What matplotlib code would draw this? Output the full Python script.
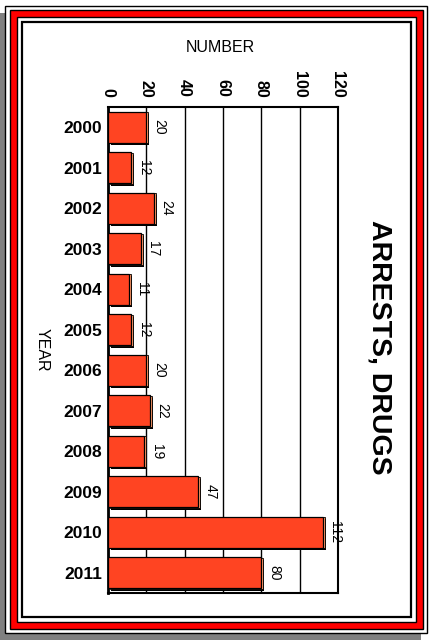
import matplotlib
matplotlib.use("Agg")
import matplotlib.pyplot as plt
from matplotlib.patches import Rectangle
from matplotlib.transforms import ScaledTranslation
import numpy as np

plt.rcParams['font.family'] = ['Liberation Sans', 'DejaVu Sans']

years = ['2000', '2001', '2002', '2003', '2004', '2005', '2006', '2007', '2008', '2009', '2010', '2011']
arrests = [20, 12, 24, 17, 11, 12, 20, 22, 19, 47, 112, 80]
xticks = [0, 20, 40, 60, 80, 100, 120]

W, H = 430, 640
fig = plt.figure(figsize=(W / 100, H / 100), dpi=100)
fig.patch.set_facecolor('white')


def frame_rect(x0, y0, x1, y1, **kw):
    r = Rectangle((x0 / W, 1 - y1 / H), (x1 - x0) / W, (y1 - y0) / H,
                  transform=fig.transFigure, **kw)
    fig.add_artist(r)
    return r

# decorative frame
frame_rect(0, 13, 421, 640, facecolor='#808080', edgecolor='none', zorder=-20)
frame_rect(5, 6, 427, 633, facecolor='white', edgecolor='black', lw=1, zorder=-19)
frame_rect(10, 10, 423, 629, facecolor='#FF0000', edgecolor='black', lw=1, zorder=-18)
frame_rect(17, 17, 416, 622, facecolor='white', edgecolor='black', lw=1, zorder=-17)
frame_rect(22, 22, 411, 617, facecolor='white', edgecolor='black', lw=1.6, zorder=-16)

ax = fig.add_axes([108 / W, 1 - 593 / H, 230 / W, 486 / H])
ax.set_facecolor('white')
y = np.arange(len(years))
h = 0.77

ax.set_xlim(0, 120)
ax.set_ylim(len(years) - 0.5, -0.5)

shadow = ax.transData + ScaledTranslation(3 / 100, -2.5 / 100, fig.dpi_scale_trans)
side = ax.transData + ScaledTranslation(2 / 100, -0.6 / 100, fig.dpi_scale_trans)
ax.barh(y, arrests, height=h, color='black', transform=shadow, zorder=2)
ax.barh(y, arrests, height=h, color='#FF9966', edgecolor='black', lw=0.6,
        transform=side, zorder=3)
ax.barh(y, arrests, height=h, color='#FF4422', edgecolor='black', lw=0.9, zorder=4)

for yi, v in zip(y, arrests):
    ax.annotate(str(v), xy=(v, yi), xytext=(4, 0), textcoords='offset points',
                rotation=-90, ha='left', va='center', fontsize=10, zorder=5)

ax.set_axisbelow(True)
ax.xaxis.grid(True, color='black', lw=1)
ax.yaxis.grid(False)

ax.xaxis.tick_top()
ax.set_xticks(xticks)
ax.set_xticklabels([str(t) for t in xticks], rotation=-90, fontweight='bold', fontsize=11.5)
ax.tick_params(axis='x', length=0, pad=7)
ax.set_yticks(y)
ax.set_yticklabels(years, fontweight='bold', fontsize=12.5)
ax.tick_params(axis='y', length=0, pad=4)

ax.spines['left'].set_linewidth(2)
for s in ['top', 'right', 'bottom']:
    ax.spines[s].set_linewidth(1.5)

fig.text(380 / W, 1 - 347 / H, 'ARRESTS, DRUGS', rotation=-90, ha='center', va='center',
         fontsize=20.5, fontweight='bold')
fig.text(220 / W, 1 - 48 / H, 'NUMBER', ha='center', va='center', fontsize=11.5)
fig.text(42 / W, 1 - 350 / H, 'YEAR', rotation=-90, ha='center', va='center', fontsize=11.5)

fig.savefig('out.png', dpi=100)
